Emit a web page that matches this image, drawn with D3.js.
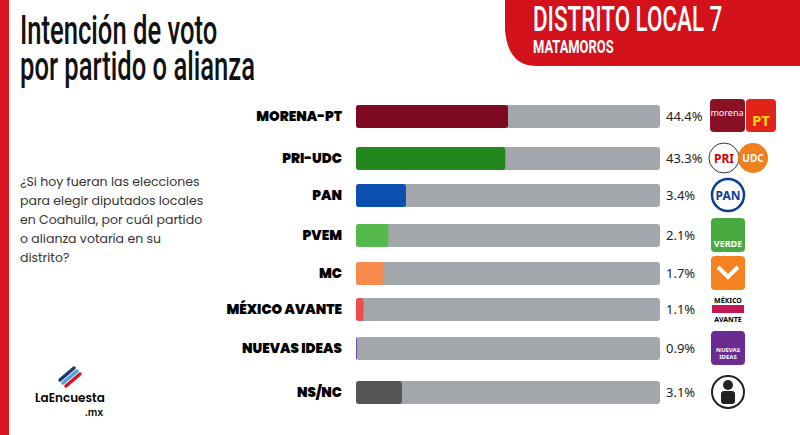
<!DOCTYPE html><html><head><meta charset="utf-8"><script src="https://cdn.jsdelivr.net/npm/d3@7"></script>
<style>body{margin:0;background:#fff}svg{display:block}</style></head><body><svg width="800" height="435"></svg>
<script>
const categories=["MORENA-PT","PRI-UDC","PAN","PVEM","MC","MÉXICO AVANTE","NUEVAS IDEAS","NS/NC"];
const values=[44.4,43.3,3.4,2.1,1.7,1.1,0.9,3.1];
const colors=["#7d0a22","#23871e","#0b4fb0","#55b94b","#f58a4c","#f04b4b","#6b4fa0","#555555"];
const rowY=[116,158,195,235,273,309,348,392];
const svg=d3.select("svg");
svg.append("rect").attr("x",0).attr("y",0).attr("width",9).attr("height",435).attr("fill","#d7141f");
function cond(x,y,size,sx,txt,fill,weight){return svg.append("text").attr("transform",`translate(${x},${y}) scale(${sx},1)`).attr("font-family","Roboto, sans-serif").attr("font-weight",weight||500).attr("font-size",size).attr("fill",fill||"#111").text(txt);}
cond(20,44,40,0.64,"Intención de voto");
cond(20,80,40,0.64,"por partido o alianza");
svg.append("path").attr("d","M518,0H800V66H536Q508,66 505,30L505,0Z").attr("fill","#d3111b");
cond(533,31,35,0.64,"DISTRITO LOCAL 7","#fff",500);
cond(533,53,19,0.68,"MATAMOROS","#fff",700);
const q=["¿Si hoy fueran las elecciones","para elegir diputados locales","en Coahuila, por cuál partido","o alianza votaría en su","distrito?"];
svg.append("text").attr("font-family","Poppins, Noto Sans, sans-serif").attr("font-size",12.5).attr("fill","#333").selectAll("tspan").data(q).join("tspan").attr("x",20).attr("y",(d,i)=>186+i*19).text(d=>d);
const x=d3.scaleLinear().domain([0.9,1.7,3.4,44.4]).range([1,27,50,152]);
const g=svg.append("g");
g.selectAll(".trk").data(values).join("rect").attr("x",356).attr("y",(d,i)=>rowY[i]-11).attr("width",304).attr("height",23).attr("rx",3).attr("fill","#a3a6ab");
g.selectAll(".bar").data(values).join("rect").attr("x",356).attr("y",(d,i)=>rowY[i]-11).attr("width",d=>x(d)).attr("height",23).attr("rx",3).attr("fill",(d,i)=>colors[i]);
g.selectAll(".lab").data(categories).join("text").attr("x",342).attr("y",(d,i)=>rowY[i]+5).attr("text-anchor","end").attr("font-family","Poppins, Noto Sans, sans-serif").attr("font-weight","900").attr("font-size",13.5).text(d=>d);
g.selectAll(".val").data(values).join("text").attr("x",666).attr("y",(d,i)=>rowY[i]+5).attr("font-family","Noto Sans, sans-serif").attr("font-size",13).attr("fill","#222").text(d=>d.toFixed(1)+"%");
const lg=svg.append("g");
categories.forEach((c,i)=>{const y=rowY[i],cx=728;
 if(i==0){lg.append("rect").attr("x",710).attr("y",y-17).attr("width",35).attr("height",33).attr("rx",4).attr("fill","#8a1025");lg.append("text").attr("x",727).attr("y",y).attr("text-anchor","middle").attr("fill","#fff").attr("font-size",9).attr("font-family","Noto Sans").text("morena");
  lg.append("rect").attr("x",746).attr("y",y-17).attr("width",30).attr("height",33).attr("rx",4).attr("fill","#e2231a");lg.append("text").attr("x",761).attr("y",y+10).attr("text-anchor","middle").attr("fill","#ffdd00").attr("font-weight","bold").attr("font-size",15).attr("font-family","Noto Sans").text("PT");}
 else if(i==1){lg.append("circle").attr("cx",724).attr("cy",y).attr("r",15).attr("fill","#fff").attr("stroke","#333");lg.append("text").attr("x",724).attr("y",y+5).attr("text-anchor","middle").attr("font-weight","bold").attr("font-size",12).attr("fill","#c00").attr("font-family","Noto Sans").text("PRI");
  lg.append("circle").attr("cx",753).attr("cy",y).attr("r",15).attr("fill","#f07f1f");lg.append("text").attr("x",753).attr("y",y+4).attr("text-anchor","middle").attr("font-weight","bold").attr("font-size",10).attr("fill","#fff").attr("font-family","Noto Sans").text("UDC");}
 else if(i==2){lg.append("circle").attr("cx",cx).attr("cy",y).attr("r",16).attr("fill","#fff").attr("stroke","#0b3e8e").attr("stroke-width",2.5);lg.append("text").attr("x",cx).attr("y",y+5).attr("text-anchor","middle").attr("font-weight","bold").attr("font-size",12).attr("fill","#0b3e8e").attr("font-family","Noto Sans").text("PAN");}
 else if(i==3){lg.append("rect").attr("x",cx-17).attr("y",y-17).attr("width",34).attr("height",34).attr("rx",4).attr("fill","#48a940");lg.append("text").attr("x",cx).attr("y",y+12).attr("text-anchor","middle").attr("font-weight","bold").attr("font-size",9).attr("fill","#fff").attr("font-family","Noto Sans").text("VERDE");}
 else if(i==4){lg.append("rect").attr("x",cx-17).attr("y",y-17).attr("width",34).attr("height",34).attr("rx",4).attr("fill","#f58220");lg.append("path").attr("d",`M${cx-10},${y-6}L${cx},${y+4}L${cx+10},${y-6}`).attr("stroke","#fff").attr("stroke-width",4).attr("fill","none");}
 else if(i==5){lg.append("text").attr("x",cx).attr("y",y-6).attr("text-anchor","middle").attr("font-weight","bold").attr("font-size",7).attr("font-family","Noto Sans").text("MÉXICO");lg.append("rect").attr("x",cx-16).attr("y",y-4).attr("width",32).attr("height",8).attr("fill","#c2185b");lg.append("text").attr("x",cx).attr("y",y+13).attr("text-anchor","middle").attr("font-weight","bold").attr("font-size",7).attr("font-family","Noto Sans").text("AVANTE");}
 else if(i==6){lg.append("rect").attr("x",cx-17).attr("y",y-17).attr("width",34).attr("height",34).attr("rx",4).attr("fill","#6a2c91");lg.append("text").attr("x",cx).attr("y",y+4).attr("text-anchor","middle").attr("font-weight","bold").attr("font-size",6).attr("fill","#fff").attr("font-family","Noto Sans").text("NUEVAS");lg.append("text").attr("x",cx).attr("y",y+11).attr("text-anchor","middle").attr("font-weight","bold").attr("font-size",6).attr("fill","#fff").attr("font-family","Noto Sans").text("IDEAS");}
 else {lg.append("circle").attr("cx",cx).attr("cy",y).attr("r",16).attr("fill","#fff").attr("stroke","#222").attr("stroke-width",2);lg.append("circle").attr("cx",cx).attr("cy",y-7).attr("r",5).attr("fill","#222");lg.append("rect").attr("x",cx-7).attr("y",y-1).attr("width",14).attr("height",13).attr("rx",3).attr("fill","#222");}
});
[["#1f3a70",0],["#4aa3df",5],["#d7141f",10]].forEach(([c,o])=>svg.append("line").attr("x1",60+o*0.6).attr("y1",380+o*0.6).attr("x2",74+o*0.6).attr("y2",368+o*0.6).attr("stroke",c).attr("stroke-width",3.5).attr("stroke-linecap","round"));
svg.append("text").attr("x",35).attr("y",402).attr("font-family","Poppins, Noto Sans, sans-serif").attr("font-weight","600").attr("font-size",12).text("LaEncuesta");
svg.append("text").attr("x",103).attr("y",416).attr("text-anchor","end").attr("font-family","Noto Sans").attr("font-weight","600").attr("font-size",10).text(".mx");
</script></body></html>
